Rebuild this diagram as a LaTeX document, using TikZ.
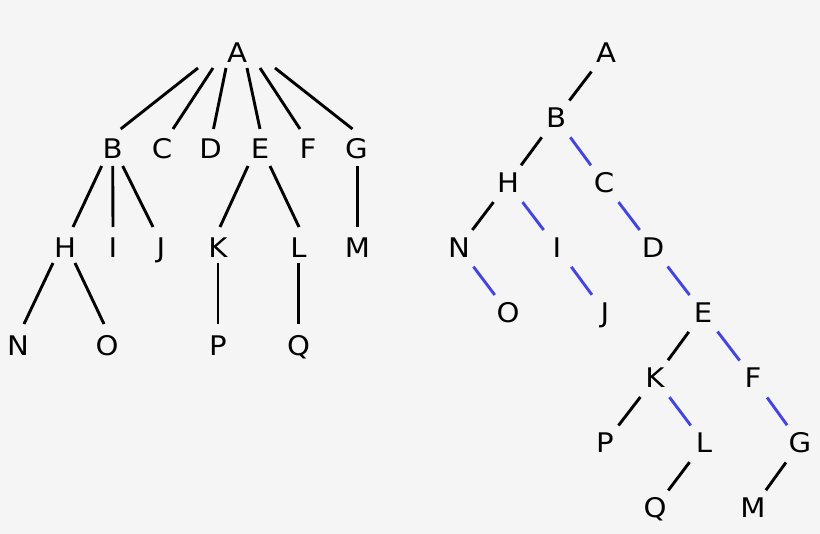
\documentclass[tikz,border=0pt]{standalone}
\usepackage{fontspec}
\setmainfont{DejaVu Sans}
\usetikzlibrary{calc}
\definecolor{bg}{RGB}{245,245,245}
\definecolor{sib}{RGB}{68,68,228}
\tikzset{
  lbl/.style={inner sep=0pt, text height=19.5pt, text depth=0pt, font=\fontsize{27}{27}\selectfont, xscale=1.08, transform shape},
  edge/.style={line width=2.9pt, black},
  sibedge/.style={line width=2.9pt, sib},
  redge/.style={shorten <=24pt, shorten >=22pt}
}
\begin{document}
\begin{tikzpicture}[x=1pt,y=-1pt]
\path[use as bounding box, fill=bg] (0,0) rectangle (820,534);
% left tree
\node[lbl] (lA) at (237,53) {A};
\node[lbl] (lB) at (112.7,149) {B};
\node[lbl] (lC) at (162,149) {C};
\node[lbl] (lD) at (210.5,149) {D};
\node[lbl] (lE) at (260,149) {E};
\node[lbl] (lF) at (308,149) {F};
\node[lbl] (lG) at (356.5,149) {G};
\node[lbl] (lH) at (65,247.5) {H};
\node[lbl] (lI) at (113,247.5) {I};
\node[lbl] (lJ) at (161,247.5) {J};
\node[lbl] (lK) at (218,247.5) {K};
\node[lbl] (lL) at (298.5,247.5) {L};
\node[lbl] (lM) at (357.5,247.5) {M};
\node[lbl] (lN) at (18,345.5) {N};
\node[lbl] (lO) at (107,345.5) {O};
\node[lbl] (lP) at (218,345.5) {P};
\node[lbl] (lQ) at (298.5,345.5) {Q};
\draw[edge] ($(lA)+(-39,15)$) -- ($(lB)+(8,-20)$);
\draw[edge] ($(lA)+(-24,15)$) -- ($(lC)+(11,-20)$);
\draw[edge] ($(lA)+(-11,15)$) -- ($(lD)+(3,-20)$);
\draw[edge] ($(lA)+(10,15)$) -- ($(lE)+(0,-20)$);
\draw[edge] ($(lA)+(23,15)$) -- ($(lF)+(-8,-20)$);
\draw[edge] ($(lA)+(38,15)$) -- ($(lG)+(-4,-20)$);
\draw[edge] ($(lB)+(-11,17)$) -- ($(lH)+(8,-20.5)$);
\draw[edge] ($(lB)+(0,17)$) -- ($(lI)+(0,-20.5)$);
\draw[edge] ($(lB)+(10,17)$) -- ($(lJ)+(-8,-20.5)$);
\draw[edge] ($(lE)+(-12,17)$) -- ($(lK)+(2,-20.5)$);
\draw[edge] ($(lE)+(10,17)$) -- ($(lL)+(0.5,-20.5)$);
\draw[edge] ($(lG)+(1,17)$) -- ($(lM)+(0,-20.5)$);
\draw[edge] ($(lH)+(-12,15.5)$) -- ($(lN)+(6,-21.5)$);
\draw[edge] ($(lH)+(10,15.5)$) -- ($(lO)+(-3,-21.5)$);
\draw[edge] ($(lK)+(0,15.5)$) -- ($(lP)+(0,-21.5)$);
\draw[edge] ($(lL)+(0,15.5)$) -- ($(lQ)+(0,-21.5)$);
% right tree
\node[lbl] (rA) at (606,52.5) {A};
\node[lbl] (rB) at (556,118) {B};
\node[lbl] (rH) at (508,183) {H};
\node[lbl] (rC) at (604,183) {C};
\node[lbl] (rN) at (459,247.5) {N};
\node[lbl] (rI) at (557,247.5) {I};
\node[lbl] (rD) at (653,247.5) {D};
\node[lbl] (rO) at (508,312.5) {O};
\node[lbl] (rJ) at (605,312.5) {J};
\node[lbl] (rE) at (703,312.5) {E};
\node[lbl] (rK) at (655,378) {K};
\node[lbl] (rF) at (753,378) {F};
\node[lbl] (rP) at (605,443) {P};
\node[lbl] (rL) at (704,443) {L};
\node[lbl] (rG) at (800,443) {G};
\node[lbl] (rQ) at (655,508) {Q};
\node[lbl] (rM) at (753,508) {M};
\draw[edge,redge] (rA.center) -- (rB.center);
\draw[edge,redge] (rB.center) -- (rH.center);
\draw[edge,redge] (rH.center) -- (rN.center);
\draw[edge,redge] (rE.center) -- (rK.center);
\draw[edge,redge] (rK.center) -- (rP.center);
\draw[edge,redge] (rL.center) -- (rQ.center);
\draw[edge,redge] (rG.center) -- (rM.center);
\draw[sibedge,redge] (rB.center) -- (rC.center);
\draw[sibedge,redge] (rH.center) -- (rI.center);
\draw[sibedge,redge] (rC.center) -- (rD.center);
\draw[sibedge,redge] (rN.center) -- (rO.center);
\draw[sibedge,redge] (rI.center) -- (rJ.center);
\draw[sibedge,redge] (rD.center) -- (rE.center);
\draw[sibedge,redge] (rE.center) -- (rF.center);
\draw[sibedge,redge] (rK.center) -- (rL.center);
\draw[sibedge,redge] (rF.center) -- (rG.center);
\end{tikzpicture}
\end{document}
